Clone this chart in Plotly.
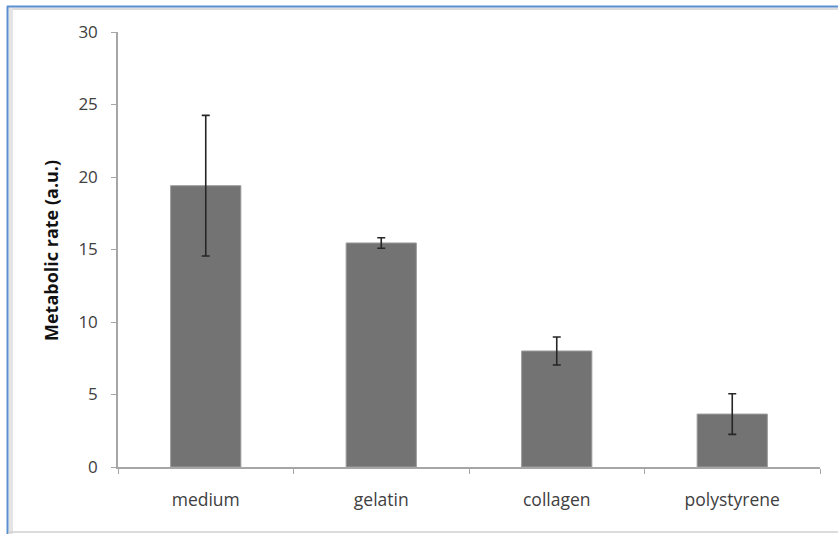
import plotly.graph_objects as go

categories = ["medium", "gelatin", "collagen", "polystyrene"]
values = [19.4, 15.45, 8.0, 3.65]
errors = [4.85, 0.36, 0.97, 1.4]
y_ticks = [0, 5, 10, 15, 20, 25, 30]

W, H = 838, 534
L, R, T, B = 118, 18, 32, 67
pw, ph = W - L - R, H - T - B

def px(x):
    return (x - L) / pw

def py(y):
    return (H - B - y) / ph

fig = go.Figure(go.Bar(
    x=categories, y=values,
    marker=dict(color="#737373", line=dict(color="#9a9a9a", width=1)),
    width=0.4,
    error_y=dict(type="data", array=errors, visible=True, color="#262626",
                 thickness=1.6, width=4),
))

font = "Open Sans, Noto Sans, sans-serif"
fig.update_layout(
    width=W, height=H,
    margin=dict(l=L, r=R, t=T, b=B),
    paper_bgcolor="white", plot_bgcolor="white",
    showlegend=False,
    font=dict(family=font, size=14, color="#404040"),
    xaxis=dict(showline=True, linecolor="#a6a6a6", linewidth=1.5,
               ticks="outside", tickson="boundaries", ticklen=5,
               tickcolor="#a6a6a6", ticklabelstandoff=16,
               showgrid=False, zeroline=False,
               tickfont=dict(family=font, size=17.5, color="#404040")),
    yaxis=dict(range=[0, 30], tickvals=y_ticks, showline=True,
               linecolor="#a6a6a6", linewidth=1.5, ticks="outside",
               ticklen=5, tickcolor="#a6a6a6", showgrid=False,
               zeroline=False, ticklabelstandoff=10,
               tickfont=dict(family=font, size=17, color="#404040")),
    annotations=[dict(text="<b>Metabolic rate (a.u.)</b>", textangle=-90,
                      xref="paper", yref="paper", x=px(51), y=py(251),
                      xanchor="center", yanchor="middle",
                      showarrow=False, font=dict(family=font, size=18, color="#111111"))],
    shapes=[
        dict(type="line", xref="paper", yref="paper", x0=px(7), x1=px(W), y0=py(6.5), y1=py(6.5),
             line=dict(color="#5b8fcf", width=2)),
        dict(type="line", xref="paper", yref="paper", x0=px(7.5), x1=px(7.5), y0=py(6), y1=py(H),
             line=dict(color="#5b8fcf", width=2)),
        dict(type="rect", xref="paper", yref="paper", x0=px(8.5), x1=px(W), y0=py(10), y1=py(7.5),
             line=dict(width=0), fillcolor="#dcdcdc", layer="below"),
        dict(type="rect", xref="paper", yref="paper", x0=px(8.5), x1=px(13), y0=py(H), y1=py(7.5),
             line=dict(width=0), fillcolor="#e4e4e4", layer="below"),
        dict(type="line", xref="paper", yref="paper", x0=px(8.5), x1=px(W), y0=py(532), y1=py(532),
             line=dict(color="#d0d0d0", width=1.5)),
    ],
)

fig.write_html("out.html", config={"displayModeBar": False},
               post_script="document.body.style.margin='0';document.body.style.overflow='hidden';")
